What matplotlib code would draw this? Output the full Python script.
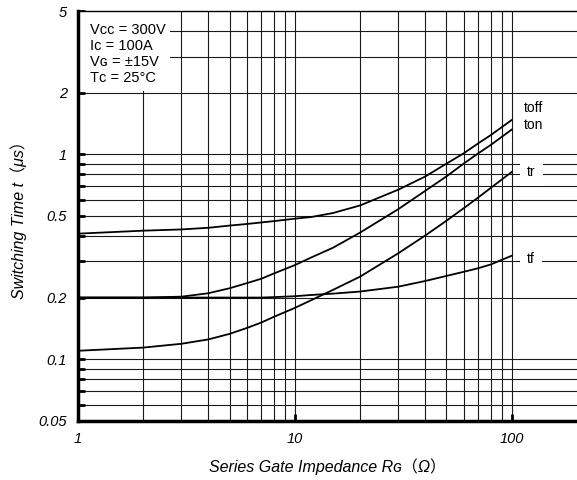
import matplotlib.pyplot as plt
import matplotlib.ticker as mticker
from matplotlib.patches import Rectangle

plt.rcParams['font.family'] = ['Liberation Sans', 'DejaVu Sans', 'Noto Sans CJK JP']

# gate resistance (ohm) and switching times (us)
rg = [1, 2, 3, 4, 5, 6, 7, 8, 10, 12, 15, 20, 30, 40, 50, 60, 70, 80, 100]
toff = [0.41, 0.424, 0.43, 0.438, 0.449, 0.457, 0.465, 0.472, 0.485, 0.495, 0.517,
        0.563, 0.672, 0.78, 0.90, 1.01, 1.13, 1.24, 1.47]
ton = [0.20, 0.20, 0.202, 0.21, 0.222, 0.235, 0.247, 0.262, 0.288, 0.315, 0.35,
       0.415, 0.54, 0.664, 0.78, 0.90, 1.01, 1.11, 1.32]
tr = [0.110, 0.114, 0.119, 0.125, 0.133, 0.142, 0.151, 0.161, 0.178, 0.195, 0.218,
      0.253, 0.329, 0.402, 0.474, 0.545, 0.615, 0.685, 0.82]
tf = [0.20, 0.20, 0.20, 0.20, 0.20, 0.20, 0.20, 0.201, 0.203, 0.206, 0.209,
      0.214, 0.226, 0.241, 0.255, 0.267, 0.278, 0.29, 0.32]

yticks = [0.05, 0.1, 0.2, 0.5, 1, 2, 5]
yticklabels = ['0.05', '0.1', '0.2', '0.5', '1', '2', '5']
xticks = [1, 10, 100]
xticklabels = ['1', '10', '100']
cond = 'Vᴄᴄ = 300V\nIᴄ = 100A\nVɢ = ±15V\nTᴄ = 25°C'

fig = plt.figure(figsize=(5.77, 4.8), dpi=100)
ax = fig.add_axes([0.135, 0.123, 0.865, 0.854])
ax.set_xscale('log')
ax.set_yscale('log')
ax.set_xlim(1, 200)
ax.set_ylim(0.05, 5)

# grid: every integer step up to 100 on x, every step on y
gc = '#1a1a1a'
xgrid = [d * k for d in [1, 10] for k in range(2, 10)] + [10, 100]
ygrid = [y for y in (d * k for d in [0.01, 0.1, 1] for k in range(1, 10)) if 0.05 < y < 5]
for x in xgrid:
    ax.axvline(x, color=gc, lw=0.8, zorder=1)
for y in ygrid:
    ax.axhline(y, color=gc, lw=0.8, zorder=1)

for s in [toff, ton, tr, tf]:
    ax.plot(rg, s, color='black', lw=1.3, zorder=3)

bb = dict(facecolor='white', edgecolor='none', pad=1.5)
ax.text(114, 1.68, 'toff', fontsize=10, va='center', ha='left', zorder=4, bbox=bb)
ax.text(114, 1.39, 'ton', fontsize=10, va='center', ha='left', zorder=4, bbox=bb)
ax.text(118, 0.82, 'tr', fontsize=10, va='center', ha='left', zorder=4,
        bbox=dict(facecolor='white', edgecolor='none', pad=5))
ax.text(118, 0.308, 'tf', fontsize=10, va='center', ha='left', zorder=4,
        bbox=dict(facecolor='white', edgecolor='none', pad=5))

# white panel behind the test conditions
ax.add_patch(Rectangle((0, 0.805), 0.184, 0.195, transform=ax.transAxes,
                       facecolor='white', edgecolor='none', zorder=2))
ax.text(0.024, 0.972, cond, transform=ax.transAxes, fontsize=10.5, va='top',
        ha='left', linespacing=1.2, zorder=4)

ax.set_xticks(xticks)
ax.set_xticklabels(xticklabels, style='italic', fontsize=10.5)
ax.set_yticks(yticks)
ax.set_yticklabels(yticklabels, style='italic', fontsize=10.5)
ax.xaxis.set_minor_locator(mticker.NullLocator())
ax.yaxis.set_minor_locator(mticker.FixedLocator(ygrid))
ax.yaxis.set_minor_formatter(mticker.NullFormatter())
ax.tick_params(which='major', direction='in', length=5, width=2, pad=8)
ax.tick_params(axis='y', which='minor', direction='in', length=5, width=2)

for side in ['left', 'bottom']:
    ax.spines[side].set_linewidth(2.5)
ax.spines['top'].set_linewidth(1.0)
ax.spines['right'].set_visible(False)

ax.set_xlabel('Series Gate Impedance Rɢ（Ω）', style='italic', fontsize=11.5, labelpad=9)
ax.set_ylabel('Switching Time t（μs）', style='italic', fontsize=11.5, labelpad=8)

fig.savefig('out.png', dpi=100)
